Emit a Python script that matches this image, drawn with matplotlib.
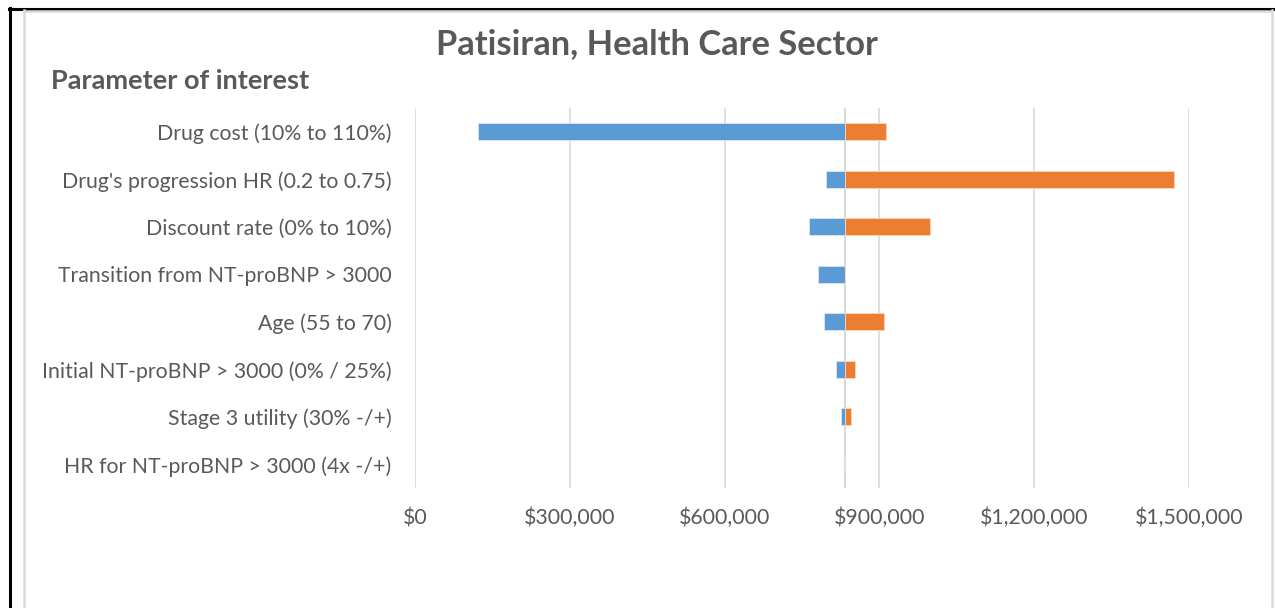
import matplotlib
matplotlib.use("Agg")
import matplotlib.pyplot as plt
from matplotlib.lines import Line2D
from matplotlib.ticker import FuncFormatter

# Tornado data: incremental cost results for each one-way sensitivity range
parameters = [
    "Drug cost (10% to 110%)",
    "Drug's progression HR (0.2 to 0.75)",
    "Discount rate (0% to 10%)",
    "Transition from NT-proBNP > 3000",
    "Age (55 to 70)",
    "Initial NT-proBNP > 3000 (0% / 25%)",
    "Stage 3 utility (30% -/+)",
    "HR for NT-proBNP > 3000 (4x -/+)",
]
base_value = 834000
low_values = [122800, 797200, 763000, 781000, 793300, 816600, 825000, 832700]
high_values = [913500, 1470200, 999000, 834000, 909700, 853400, 844400, 834000]
x_ticks = [0, 300000, 600000, 900000, 1200000, 1500000]

BLUE = "#5B9BD5"
ORANGE = "#ED7D31"
TEXT = "#595959"
GRID = "#D9D9D9"

plt.rcParams["font.family"] = ["Lato", "DejaVu Sans"]

fig = plt.figure(figsize=(12.75, 6.08), dpi=100)
fig.patch.set_facecolor("white")
W, H = 1275, 608
ax = fig.add_axes([415 / W, 1 - 488 / H, (1189 - 415) / W, (488 - 108) / H])

y = list(range(len(parameters)))
bar_h = 0.36
low_w = [lo - base_value for lo in low_values]
high_w = [hi - base_value for hi in high_values]
ax.barh(y, low_w, left=base_value, height=bar_h, color=BLUE,
        edgecolor="#DCE8F5", linewidth=0.6, zorder=3)
ax.barh(y, high_w, left=base_value, height=bar_h, color=ORANGE,
        edgecolor="#F8D7C3", linewidth=0.6, zorder=3)

ax.set_xlim(0, 1500000)
ax.set_ylim(len(parameters) - 0.5, -0.5)
ax.set_xticks(x_ticks)
ax.xaxis.set_major_formatter(FuncFormatter(lambda v, p: f"${v:,.0f}"))
ax.set_yticks(y)
ax.set_yticklabels(parameters)
ax.tick_params(axis="x", length=0, pad=14.5, labelsize=15.3, labelcolor=TEXT)
ax.tick_params(axis="y", length=0, pad=17, labelsize=15.3, labelcolor=TEXT)

ax.grid(axis="x", color=GRID, linewidth=1.2, zorder=0)
ax.axvline(base_value, color=GRID, linewidth=1.4, zorder=2)
for s in ax.spines.values():
    s.set_visible(False)

fig.text(657 / W, 1 - 44 / H, "Patisiran, Health Care Sector", ha="center",
         va="center", fontsize=24.8, fontweight="bold", color=TEXT)
fig.text(51 / W, 1 - 81 / H, "Parameter of interest", ha="left",
         va="center", fontsize=19.5, fontweight="bold", color=TEXT)

# Outer frame and chart-area border
fig.add_artist(Line2D([9 / W, 1], [1 - 8.5 / H, 1 - 8.5 / H], color="black",
                      linewidth=2.2, transform=fig.transFigure))
fig.add_artist(Line2D([10 / W, 10 / W], [0, 1 - 8 / H], color="black",
                      linewidth=2.2, transform=fig.transFigure))
fig.add_artist(Line2D([24 / W, 1272 / W], [1 - 10.5 / H, 1 - 10.5 / H],
                      color=GRID, linewidth=1.8, transform=fig.transFigure))
fig.add_artist(Line2D([24 / W, 24 / W], [0, 1 - 10 / H], color=GRID,
                      linewidth=1.8, transform=fig.transFigure))
fig.add_artist(Line2D([1272 / W, 1272 / W], [0, 1 - 10 / H], color=GRID,
                      linewidth=1.8, transform=fig.transFigure))

fig.savefig("out.png", dpi=100, facecolor="white")
